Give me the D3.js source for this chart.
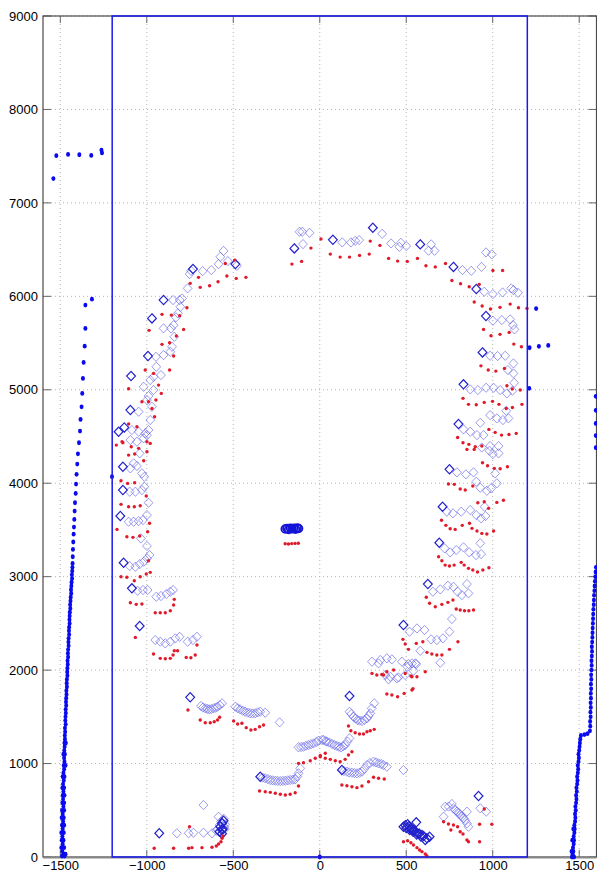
<!DOCTYPE html>
<html><head><meta charset="utf-8">
<script src="https://cdn.jsdelivr.net/npm/d3@7/dist/d3.min.js"></script>
<style>
body{margin:0;background:#fff}
svg{display:block}
text{font-family:"Liberation Sans",Arial,Helvetica,sans-serif;font-size:13px;fill:#000}
</style>
</head><body>
<svg id="chart" width="597" height="875"></svg>
<script>
const xTicks=[-1500,-1000,-500,0,500,1000,1500];
const yTicks=[0,1000,2000,3000,4000,5000,6000,7000,8000,9000];
const xDomain=[-1600,1600];
const yDomain=[0,9000];
const boxX=[-1200,1200];
const boxY=[0,9000];

const blueDotsTop=[[-1540,7260],[-1523,7505],[-1455,7519],[-1390,7515],[-1321,7508],[-1262,7565],[-1259,7535]];
const blueDotsLeft=[[-1317,5970],[-1355,5906],[-1355,5657],[-1359,5467],[-1365,5293],[-1369,5122],[-1373,4961],[-1377,4818],[-1383,4683],[-1386,4558],[-1392,4433],[-1398,4315],[-1402,4205],[-1406,4095],[-1409,3991],[-1411,3891],[-1415,3791],[-1417,3702],[-1419,3613],[-1421,3531],[-1423,3455],[-1425,3371],[-1427,3292],[-1428,3213],[-1429,3142],
[-1430,3100],[-1431,3060],[-1433,3020],[-1432,2980],[-1435,2940],[-1436,2900],[-1438,2860],[-1437,2820],[-1440,2780],[-1441,2740],[-1443,2700],[-1442,2660],[-1445,2620],[-1446,2580],[-1447,2540],[-1446,2500],[-1449,2460],[-1450,2420],[-1449,2380],[-1452,2340],[-1453,2300],[-1452,2260],[-1455,2220],[-1456,2180],[-1455,2140],[-1458,2100],[-1457,2060],[-1459,2020],[-1460,1980],[-1459,1940],[-1462,1900],[-1463,1860],[-1462,1820],[-1465,1780],[-1464,1740],[-1466,1700],[-1467,1660],[-1466,1620],[-1469,1580],[-1468,1540],[-1470,1500],[-1471,1460],[-1469,1420],[-1473,1380],[-1472,1340],[-1474,1300],[-1473,1260],[-1476,1220],[-1468,1220],[-1475,1180],[-1477,1140],[-1474,1100],[-1482,1100],[-1478,1060],[-1476,1020],[-1480,980],[-1470,980],[-1478,940],[-1482,900],[-1476,860],[-1486,860],[-1480,820],[-1484,780],[-1478,740],[-1488,740],[-1482,700],[-1486,660],[-1476,660],[-1484,620],[-1488,580],[-1478,580],[-1482,540],[-1490,500],[-1478,500],[-1486,460],[-1480,420],[-1492,420],[-1484,380],[-1490,340],[-1478,340],[-1486,300],[-1480,260],[-1494,260],[-1488,220],[-1482,180],[-1492,180],[-1486,140],[-1478,100],[-1494,100],[-1488,60],[-1482,30],[-1470,30],[-1490,10],[-1476,10]];
const blueDotsRight=[[1458,0],[1470,0],[1462,30],[1466,60],[1456,60],[1464,100],[1468,140],[1470,180],[1460,180],[1468,220],[1472,260],[1474,300],[1466,300],[1472,340],[1476,380],[1478,420],[1476,460],[1480,500],[1478,540],[1482,580],[1484,620],[1482,660],[1486,700],[1484,740],[1488,780],[1490,820],[1488,860],[1492,900],[1494,940],[1492,980],[1496,1020],[1498,1060],[1496,1100],[1500,1140],[1502,1180],[1504,1220],[1506,1260],[1510,1300],[1530,1310],[1548,1320],
[1562,1350],[1564,1400],[1563,1450],[1566,1500],[1565,1550],[1567,1600],[1566,1650],[1568,1700],[1567,1750],[1569,1800],[1568,1850],[1570,1900],[1569,1950],[1571,2000],[1572,2050],[1571,2100],[1573,2150],[1574,2200],[1573,2250],[1575,2300],[1576,2350],[1577,2400],[1578,2450],[1579,2500],[1580,2550],[1581,2600],[1582,2650],[1584,2700],[1585,2750],[1586,2800],[1588,2850],[1589,2900],[1591,2950],[1593,3000],[1595,3050],[1597,3100]];
const blueDotsOther=[[1251,5869],[1213,5450],[1267,5465],[1321,5475],[1211,5016],[-1201,4070],[0,0],[1596,4930],[1596,4780],[1596,4640],[1596,4510],[1596,4380]];

const blueCircles=[[-200,3510],[-190,3515],[-180,3505],[-170,3520],[-160,3512],[-150,3518],[-140,3508],[-130,3522],[-122,3515]];

const redDots=[
[-492,6388],[-546,6352],[-427,6203],[-483,6192],[-537,6217],[-588,6156],[-637,6113],[-691,6096],[-749,6139],[-701,6203],[-768,5878],[-810,5792],[-858,5799],[-912,5807],[-787,5646],[-987,5636],[-829,5575],[-868,5503],[-912,5486],[-845,5361],[-868,5211],[-916,4961],[-947,4890],[-961,5175],[-1009,5211],[-1105,5011],[-932,5050],[-1028,4872],[-990,4872],[-970,4800],[-955,4711],[-1057,4604],[-1105,4633],[-1143,4444],[-1176,4408],[-1090,4390],[-1047,4373],[-980,4426],[-999,4444],[-161,6345],
[-105,6374],[-51,6516],[7,6613],[61,6452],[118,6420],[172,6420],[230,6438],[286,6452],[292,6591],[348,6545],[398,6406],[450,6377],[506,6374],[565,6406],[614,6327],[668,6315],[727,6352],[764,6170],[814,6134],[864,6102],[922,6128],[1001,6277],[1057,6277],[893,5939],[939,5896],[987,5864],[1042,5882],[1101,5917],[1149,5878],[1198,5871],[947,5646],[990,5578],[1042,5593],[1095,5614],[1122,5489],[1166,5460],[932,5256],[974,5211],[1018,5200],[1068,5229],[1113,5008],[1159,4997],[1082,5043],[828,4908],[860,4844],[905,4840],[951,4865],[999,4876],[1036,4844],[1078,4800],[1114,4811],[1169,4844],[978,4576],[1014,4544],[1051,4515],[1094,4522],[1136,4533],[797,4490],[828,4433],[862,4416],[899,4390],[937,4398],
[851,4362],[893,4362],[941,4219],[970,4187],[1009,4159],[1043,4155],[1085,4176],[744,3991],[778,3988],[812,3938],[841,3927],[885,3970],[914,3791],[951,3802],[976,3731],[1024,3795],[1062,3817],[704,3603],[729,3549],[754,3513],[783,3506],[824,3549],[866,3571],[880,3517],[909,3488],[937,3463],[966,3456],[1005,3488],[687,3213],[706,3171],[725,3124],[750,3114],[777,3124],[818,3153],[835,3124],[860,3089],[885,3071],[912,3050],[943,3071],[978,3096],[616,2779],[635,2715],[668,2678],[706,2704],[741,2725],[770,2750],[789,2654],[812,2643],[837,2635],[862,2635],[889,2643],[481,2329],[494,2279],[513,2222],[558,2286],[596,2304],[620,2190],[648,2172],[677,2161],[706,2161],[750,2222],[799,2304],[494,1964],[527,1937],[610,1983],[539,1801],[369,1947],[533,1929],
[-1138,4433],[-1105,4301],[-1070,4312],[-1018,4240],[-999,4337],[-1149,4026],[-1111,3998],[-1070,4005],[-1003,3863],[-1149,3774],[-1105,3748],[-1072,3748],[-1038,3759],[-1172,3506],[-1115,3427],[-1080,3421],[-1041,3435],[-995,3481],[-984,3571],[-990,3171],[-1149,2999],[-1115,2993],[-1072,2956],[-1038,2999],[-1003,3028],[-980,3046],[-1095,2721],[-1061,2704],[-1028,2707],[-1066,2350],[-951,2614],[-922,2614],[-893,2614],[-864,2636],[-845,2696],[-841,2757],[-961,2172],[-922,2126],[-893,2122],[-864,2126],[-848,2161],[-841,2207],[-822,2207],[-772,2136],[-745,2133],[-720,2161],[-710,2268],
[-762,1573],[-691,1466],[-662,1437],[-633,1437],[-610,1448],[-591,1466],[-579,1495],[-498,1455],[-475,1423],[-450,1431],[-425,1384],[-398,1359],[-373,1366],[-348,1394],[-325,1412],[-348,706],[-315,699],[-286,692],[-257,682],[-228,671],[-199,663],[-171,671],[-142,688],[-123,760],[-123,1002],[-94,1009],[-55,1030],[-26,1056],[3,1073],[32,1110],[-957,93],[-845,93],[-758,93],[-739,100],[-681,100],[-753,324],[-623,104],[-598,118],[-585,139],[-571,164],[-565,200],[-560,225],
[302,1965],[330,1947],[359,1954],[388,1983],[427,2001],[562,1929],[388,1744],[417,1733],[450,1715],[488,1751],[533,1787],[166,1402],[180,1351],[205,1330],[230,1316],[253,1316],[273,1341],[292,1351],[315,1366],[3,1087],[32,1056],[61,1045],[90,1030],[118,1020],[147,1045],[166,1091],[186,1127],[128,770],[157,763],[186,752],[215,742],[244,760],[282,806],[311,853],[340,842],[373,835],[484,164],[508,174],[527,153],[542,128],[562,100],[577,75],[591,57],[610,32],[619,14],[716,378],[744,353],[773,342],[797,324],[758,289],[812,271],[828,246],[851,182],[860,164],[924,350],[924,164],[951,514],[995,350],
[-200,3352],[-181,3350],[-162,3354],[-143,3356],[-124,3358]];

const diamondsLight=[
[-556,6486],[-575,6423],[-531,6377],[-479,6327],[-585,6345],[-627,6281],[-677,6270],[-744,6273],[-752,6238],[-764,6085],[-796,5977],[-810,5960],[-848,5960],[-806,5888],[-820,5818],[-831,5775],[-845,5692],[-860,5657],[-903,5657],[-841,5567],[-854,5460],[-864,5407],[-903,5371],[-947,5353],[-945,5246],[-918,5157],[-961,5139],[-980,5104],[-1018,5032],[-961,4997],[-990,4933],[-999,4890],[-1047,4765],[-970,4818],[-980,4676],[-990,4569],[-1009,4533],[-1086,4569],[-1047,4551],[-1095,4462],[-1018,4480],[-999,4515],[-117,6691],
[-97,6559],[-101,6691],[-59,6680],[130,6577],[180,6577],[205,6594],[228,6602],[361,6669],[412,6566],[460,6530],[469,6573],[500,6538],[629,6488],[644,6556],[664,6488],[825,6281],[876,6273],[935,6315],[961,6470],[995,6449],[951,6049],[1001,6024],[1057,6042],[1107,6085],[1120,6067],[1146,6038],[1001,5739],[1053,5746],[1101,5753],[1117,5692],[1126,5646],[985,5364],[1028,5361],[1072,5364],[1120,5282],[1088,5211],[1120,5175],[1124,5075],[870,5004],[914,4997],[962,5022],[1005,5022],[1043,4997],[1082,4961],[1114,4990],[985,4729],[1024,4694],[1059,4676],[1091,4694],[1078,4775],[831,4576],[870,4551],[909,4515],[947,4515],[985,4398],[1034,4398],[928,4647],
[937,4382],[981,4347],[1034,4320],[1001,4312],[793,4116],[845,4095],[889,4116],[905,4016],[928,3952],[966,3919],[990,3945],[1014,4105],[1024,3999],[735,3695],[770,3678],[818,3695],[870,3713],[905,3659],[933,3624],[958,3649],[953,3748],[722,3303],[754,3260],[789,3285],[831,3314],[864,3260],[903,3231],[928,3357],[933,3242],[654,2839],[697,2864],[741,2903],[773,2892],[797,2839],[822,2803],[851,2921],[860,2821],[519,2411],[562,2446],[606,2429],[644,2329],[677,2322],[712,2340],[750,2411],[764,2547],[581,2207],[697,2079],[475,2090],[507,2036],[552,2072],[542,1993],[494,1947],
[350,2108],[388,2126],[417,2115],[379,1947],[408,1929],[455,1922],[533,2072],
[302,2090],[340,2072],[398,1901],[446,1912],[513,2065],[558,2065],
[172,1555],[195,1501],[218,1466],[244,1455],[273,1484],[292,1538],[315,1645],[182,1530],[207,1482],[230,1460],[258,1466],[283,1510],[300,1590],
[13,1252],[42,1234],[71,1209],[99,1188],[123,1173],[147,1198],[172,1270],[35,1240],[56,1225],[85,1198],[111,1180],[135,1185],[160,1235],
[157,913],[186,902],[215,895],[244,913],[273,984],[311,1020],[340,1002],[369,984],[388,966],[484,931],[140,920],[170,905],[200,898],[230,902],[258,945],[290,1005],[325,1012],[355,995],
[716,431],[725,538],[764,567],[773,521],[793,485],[812,449],[831,414],[851,485],[851,360],[860,324],[928,521],[962,485],[745,540],[785,500],[805,470],[822,430],[840,395],
[-687,1616],[-662,1591],[-639,1580],[-614,1591],[-591,1608],[-565,1645],[-675,1600],[-650,1585],[-627,1583],[-602,1598],[-578,1625],
[-488,1608],[-460,1580],[-431,1555],[-402,1538],[-373,1538],[-344,1555],[-315,1544],[-232,1441],[-474,1592],[-445,1565],[-416,1545],[-388,1536],[-358,1548],
[-315,842],[-286,824],[-257,816],[-228,813],[-199,816],[-171,824],[-142,831],[-123,896],[-113,949],[-330,850],[-300,833],[-272,820],[-243,814],[-213,814],[-185,820],[-156,828],[-130,860],
[-123,1174],[-94,1180],[-65,1198],[-36,1216],[-7,1244],[22,1252],[-108,1177],[-80,1190],[-50,1207],[-20,1230],
[-826,254],[-758,254],[-730,260],[-672,260],[-672,556],[-623,254],[-598,281],
[-585,431],[-579,342],[-552,324],[-570,380],[-548,350],[-555,410],[-590,300],[-548,300],
[-1057,4444],[-1041,4320],[-1076,4213],[-1095,4159],[-1057,4184],[-1028,4105],[-1014,4069],[-1099,3909],[-1066,3909],[-1028,3927],[-1014,3963],[-990,3791],[-1105,3588],[-1076,3588],[-1047,3595],[-1022,3606],[-999,3659],[-1034,3410],[-999,3328],[-984,3231],[-1099,3114],[-1066,3106],[-1041,3135],[-1018,3160],[-999,3196],[-1053,2849],[-1022,2857],[-995,2857],[-945,2785],[-918,2793],[-887,2814],[-864,2839],[-848,2857],[-951,2322],[-922,2304],[-893,2286],[-864,2304],[-835,2340],[-810,2357],[-764,2304],[-733,2322],[-710,2357]];

const diamondsDark=[[-488,6345],[-733,6292],[-903,5960],[-970,5764],[-993,5361],[-1091,5147],[-1095,4783],[-1163,4551],[-1130,4597],[-147,6513],[76,6605],[307,6734],[581,6556],[773,6315],[905,6078],[961,5789],[941,5400],[831,5058],[802,4633],[750,4149],[710,3748],[691,3363],[625,2921],[484,2482],[-1138,4176],[-1138,3927],[-1153,3649],[-1134,3149],[-1086,2875],[-1041,2472],[-749,1709],[-344,859],[-928,254],[172,1723],[128,931],[918,653],
[484,324],[508,350],[523,307],[542,289],[558,371],[565,254],[591,235],[610,182],[635,217],[495,340],[515,330],[532,300],[550,280],[575,250],[600,225],[620,200],[500,310],[520,290],[540,270],[560,240],[585,220],
[-575,324],[-565,360],[-556,388],[-565,289],[-560,300],[-580,270],[-565,250]];

const svg=d3.select("#chart");
const x=d3.scaleLinear().domain(xDomain).range([43,596.5]);
const y=d3.scaleLinear().domain(yDomain).range([857,16]);
const L=43,R=596.5,T=16,B=857;

// grid
const g=svg.append("g");
g.selectAll(".gx").data(xTicks).enter().append("line")
 .attr("x1",d=>x(d)).attr("x2",d=>x(d)).attr("y1",T).attr("y2",B)
 .attr("stroke","#b4b4b4").attr("stroke-width",1).attr("stroke-dasharray","1,3");
g.selectAll(".gy").data(yTicks).enter().append("line")
 .attr("y1",d=>y(d)).attr("y2",d=>y(d)).attr("x1",L).attr("x2",R)
 .attr("stroke","#b4b4b4").attr("stroke-width",1).attr("stroke-dasharray","1,3");

// axes
const xAxis=d3.axisBottom(x).tickValues(xTicks).tickSize(0).tickPadding(3.5).tickFormat(d3.format("d"));
const yAxis=d3.axisLeft(y).tickValues(yTicks).tickSize(0).tickPadding(5).tickFormat(d3.format("d"));
const ax=svg.append("g").attr("transform",`translate(0,${B})`).call(xAxis);
ax.select(".domain").remove();
ax.selectAll("text").attr("dy","0.71em").style("font-size","13px");
const ay=svg.append("g").attr("transform",`translate(${L},0)`).call(yAxis);
ay.select(".domain").remove();
ay.selectAll("text").style("font-size","13px");

// ticks inward
const tk=svg.append("g").attr("stroke","#666").attr("stroke-width",1);
xTicks.forEach(t=>{
  tk.append("line").attr("x1",x(t)).attr("x2",x(t)).attr("y1",B).attr("y2",B-7);
  tk.append("line").attr("x1",x(t)).attr("x2",x(t)).attr("y1",T).attr("y2",T+7);
});
yTicks.forEach(t=>{
  tk.append("line").attr("x1",L).attr("x2",L+8).attr("y1",y(t)).attr("y2",y(t));
  tk.append("line").attr("x1",R).attr("x2",R-8).attr("y1",y(t)).attr("y2",y(t));
});
// box
svg.append("rect").attr("x",L).attr("y",T).attr("width",R-L).attr("height",B-T)
 .attr("fill","none").attr("stroke","#4a4a4a").attr("stroke-width",1.2);
svg.append("line").attr("x1",L).attr("x2",R).attr("y1",B+0.5).attr("y2",B+0.5).attr("stroke","#888").attr("stroke-width",2);

const diamond=(r)=>`M0,${-r*1.05}L${r},0L0,${r*1.05}L${-r},0Z`;

// diamonds
svg.append("g").selectAll("path").data(diamondsLight).enter().append("path")
 .attr("d",diamond(4.4)).attr("transform",d=>`translate(${x(d[0])},${y(d[1])})`)
 .attr("fill","none").attr("stroke","#5a5ae6").attr("stroke-opacity",0.6).attr("stroke-width",1);
svg.append("g").selectAll("path").data(diamondsDark).enter().append("path")
 .attr("d",diamond(4.4)).attr("transform",d=>`translate(${x(d[0])},${y(d[1])})`)
 .attr("fill","none").attr("stroke","#2222cc").attr("stroke-width",1.2);

// red dots
svg.append("g").selectAll("circle").data(redDots).enter().append("circle")
 .attr("cx",d=>x(d[0])).attr("cy",d=>y(d[1])).attr("r",1.7).attr("fill","#e01a2a");

// blue dots
const allBlue=blueDotsTop.concat(blueDotsLeft,blueDotsRight,blueDotsOther);
svg.append("g").selectAll("ellipse").data(allBlue).enter().append("ellipse")
 .attr("cx",d=>x(d[0])).attr("cy",d=>y(d[1])).attr("rx",2).attr("ry",2.4).attr("fill","#0a0af0");

// blue circles
svg.append("g").selectAll("circle").data(blueCircles).enter().append("circle")
 .attr("cx",d=>x(d[0])).attr("cy",d=>y(d[1])).attr("r",3.8)
 .attr("fill","none").attr("stroke","#1414d8").attr("stroke-width",1.8);

// blue rectangle
svg.append("rect").attr("x",x(boxX[0])).attr("y",y(boxY[1]))
 .attr("width",x(boxX[1])-x(boxX[0])).attr("height",y(boxY[0])-y(boxY[1]))
 .attr("fill","none").attr("stroke","#1a1af0").attr("stroke-width",1.5);
</script>
</body></html>
